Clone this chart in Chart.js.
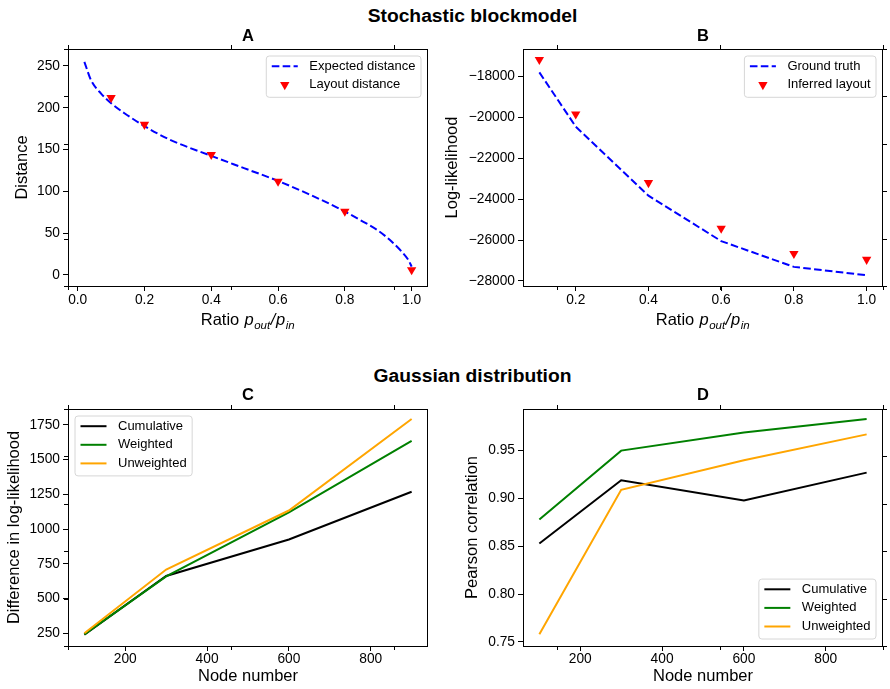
<!DOCTYPE html>
<html>
<head>
<meta charset="utf-8">
<script src="https://cdn.jsdelivr.net/npm/chart.js"></script>
<style>
body { margin: 0; background: #fff; width: 890px; height: 689px; position: relative; overflow: hidden; font-family: "Liberation Sans", Arial, sans-serif; }
canvas { position: absolute; }
.sup { position: absolute; left: 272.5px; width: 400px; text-align: center; font-weight: bold; font-size: 19.25px; line-height: 22px; }
</style>
</head>
<body>
<div class="sup" style="top:5px">Stochastic blockmodel</div>
<div class="sup" style="top:364.5px">Gaussian distribution</div>
<canvas id="chartA" width="438" height="330" style="left:0;top:25px"></canvas>
<canvas id="chartB" width="452" height="330" style="left:438px;top:25px"></canvas>
<canvas id="chartC" width="438" height="306" style="left:0;top:383px"></canvas>
<canvas id="chartD" width="452" height="306" style="left:438px;top:383px"></canvas>
<script>
// panel A - stochastic blockmodel, distances
const ratioCurve = [0.02, 0.04, 0.07, 0.1, 0.14, 0.2, 0.275, 0.4, 0.5, 0.6, 0.69, 0.78, 0.84, 0.9, 0.94, 0.97, 0.99, 1.0];
const expectedDistance = [255, 233, 217, 205.5, 193.5, 178, 162, 142.5, 127.5, 112.5, 97, 80, 67, 53, 40, 28, 18, 10];
const ratioA = [0.1, 0.2, 0.4, 0.6, 0.8, 1.0];
const layoutDistance = [212, 180, 144, 112, 76, 6];

// panel B - log-likelihood
const ratioB = [0.1, 0.2, 0.4, 0.6, 0.8, 1.0];
const groundTruth = [-17800, -20450, -23830, -26050, -27310, -27720];
const inferredLayout = [-17180, -19840, -23200, -25430, -26660, -26950];

// panels C and D - gaussian distribution
const nodeNumber = [100, 300, 600, 900];
const diffCumulative = [240, 663, 925, 1269];
const diffWeighted = [242, 660, 1120, 1635];
const diffUnweighted = [250, 709, 1134, 1793];
const corrCumulative = [0.853, 0.919, 0.898, 0.927];
const corrWeighted = [0.878, 0.950, 0.969, 0.983];
const corrUnweighted = [0.758, 0.909, 0.940, 0.967];

// tick labels
const ratioTicksA = [0, 0.2, 0.4, 0.6, 0.8, 1.0];
const ratioTicksB = [0.2, 0.4, 0.6, 0.8, 1.0];
const distTicks = [0, 50, 100, 150, 200, 250];
const llTicks = [-28000, -26000, -24000, -22000, -20000, -18000];
const nodeTicks = [200, 400, 600, 800];
const diffTicks = [250, 500, 750, 1000, 1250, 1500, 1750];
const corrTicks = [0.75, 0.80, 0.85, 0.90, 0.95];

const FONT = '"Liberation Sans", Arial, sans-serif';
Chart.defaults.font.family = FONT;
Chart.defaults.color = '#000';

const pts = (xs, ys) => xs.map((x, i) => ({ x: x, y: ys[i] }));

// spines all round plus the stray ticks of the big background axes
const frame = {
  id: 'frame',
  afterDraw(chart, args, o) {
    const { ctx, chartArea: a } = chart;
    ctx.save();
    ctx.strokeStyle = '#000';
    ctx.lineWidth = 1;
    ctx.strokeRect(Math.round(a.left) + 0.5, Math.round(a.top) + 0.5, Math.round(a.right - a.left) - 1, Math.round(a.bottom - a.top));
    const b = o.box, ox = o.off[0], oy = o.off[1], L = 4;
    ctx.beginPath();
    for (let i = 0; i <= 5; i++) {
      const f = i / 5;
      const x = Math.round(b[0] + f * (b[1] - b[0]) - ox) + 0.5;
      const y = Math.round(b[3] - f * (b[3] - b[2]) - oy) + 0.5;
      ctx.moveTo(x, b[2] - oy); ctx.lineTo(x, b[2] - oy - L);
      ctx.moveTo(x, b[3] - oy); ctx.lineTo(x, b[3] - oy + L);
      ctx.moveTo(b[0] - ox, y); ctx.lineTo(b[0] - ox - L, y);
      ctx.moveTo(b[1] - ox, y); ctx.lineTo(b[1] - ox + L, y);
    }
    ctx.stroke();
    ctx.restore();
  }
};

const panelTitle = {
  id: 'panelTitle',
  afterDraw(chart, args, o) {
    const { ctx, chartArea: a } = chart;
    ctx.save();
    ctx.font = 'bold 16.5px ' + FONT;
    ctx.fillStyle = '#000';
    ctx.textAlign = 'center';
    ctx.textBaseline = 'middle';
    ctx.fillText(o.text, (a.left + a.right) / 2, a.top - o.dy);
    ctx.restore();
  }
};

// "Ratio p_out/p_in" with italic p and subscripts
const mathTitle = {
  id: 'mathTitle',
  afterDraw(chart, args, o) {
    if (!o.show) return;
    const { ctx, chartArea: a } = chart;
    const parts = [['Ratio ', '', 16.5, 0], ['p', 'italic ', 16.5, 0], ['out', 'italic ', 11.5, 4], ['/', 'italic ', 16.5, 0], ['p', 'italic ', 16.5, 0], ['in', 'italic ', 11.5, 4]];
    ctx.save();
    ctx.fillStyle = '#000';
    ctx.textBaseline = 'alphabetic';
    ctx.textAlign = 'left';
    let total = 0;
    parts.forEach(p => { ctx.font = p[1] + p[2] + 'px ' + FONT; total += ctx.measureText(p[0]).width + 0.6; });
    let x = (a.left + a.right) / 2 - total / 2;
    const y = a.bottom + 39.3;
    parts.forEach(p => {
      ctx.font = p[1] + p[2] + 'px ' + FONT;
      ctx.fillText(p[0], x, y + p[3]);
      x += ctx.measureText(p[0]).width + 0.6;
    });
    ctx.restore();
  }
};

// matplotlib style legend box inside the axes
const mplLegend = {
  id: 'mplLegend',
  afterDraw(chart, args, o) {
    const { ctx, chartArea: a } = chart;
    const sets = chart.data.datasets;
    ctx.save();
    ctx.font = '13px ' + FONT;
    const tw = Math.max(...sets.map(d => ctx.measureText(d.label).width));
    const pad = 5.5, handle = 26, gap = 11.5, rowH = 18.6, inset = 7;
    const w = pad + handle + gap + tw + pad;
    const h = 10.2 + (sets.length - 1) * rowH + 12.5;
    const x0 = o.loc.includes('right') ? a.right - inset - w : a.left + inset;
    const y0 = o.loc.includes('upper') ? a.top + inset : a.bottom - inset - h;
    ctx.beginPath();
    ctx.roundRect(x0, y0, w, h, 3);
    ctx.fillStyle = 'rgba(255,255,255,0.8)';
    ctx.fill();
    ctx.strokeStyle = '#d6d6d6';
    ctx.lineWidth = 1;
    ctx.stroke();
    sets.forEach((d, i) => {
      const cy = y0 + 10.2 + i * rowH;
      const hx = x0 + pad;
      if (d.showLine === false) {
        ctx.fillStyle = d.backgroundColor;
        ctx.strokeStyle = d.borderColor;
        Chart.helpers.drawPoint(ctx, { pointStyle: 'triangle', rotation: 180, radius: d.pointRadius, borderWidth: 0 }, hx + handle / 2, cy);
      } else {
        ctx.beginPath();
        ctx.setLineDash(d.borderDash || []);
        ctx.strokeStyle = d.borderColor;
        ctx.lineWidth = d.borderWidth;
        ctx.moveTo(hx, cy);
        ctx.lineTo(hx + handle, cy);
        ctx.stroke();
        ctx.setLineDash([]);
      }
      ctx.fillStyle = '#000';
      ctx.textBaseline = 'middle';
      ctx.textAlign = 'left';
      ctx.fillText(d.label, hx + handle + gap, cy);
    });
    ctx.restore();
  }
};

function scales(o) {
  const grid = { drawOnChartArea: false, drawTicks: true, tickLength: 5, color: '#000', lineWidth: 1 };
  return {
    x: {
      type: 'linear', min: o.xMin, max: o.xMax,
      afterBuildTicks: s => { s.ticks = o.xTicks.map(v => ({ value: v })); },
      afterFit: s => { s.height = o.xH; },
      ticks: { callback: o.xFmt, font: { size: 13.75 }, padding: o.xPad, maxRotation: 0, autoSkip: false },
      grid: grid,
      border: { display: false },
      title: o.xTitle ? { display: true, text: o.xTitle, font: { size: 16.5 }, padding: { top: 0, bottom: 2.4 } } : { display: false }
    },
    y: {
      type: 'linear', min: o.yMin, max: o.yMax,
      afterBuildTicks: s => { s.ticks = o.yTicks.map(v => ({ value: v })); },
      afterFit: s => { s.width = o.yW; },
      ticks: { callback: o.yFmt, font: { size: 13.75 }, padding: 3, autoSkip: false },
      grid: grid,
      border: { display: false },
      title: { display: true, text: o.yTitle, font: { size: 16.5 }, padding: { top: o.yTitlePad, bottom: 0 } }
    }
  };
}

const base = (padRight, padTop) => ({
  responsive: false,
  animation: false,
  devicePixelRatio: 1,
  events: [],
  layout: { padding: { left: 0, right: padRight, top: padTop, bottom: 0 } }
});

const dashed = (label, xs, ys, smooth) => ({
  label: label, data: pts(xs, ys), order: 1,
  borderColor: '#0000ff', borderWidth: 2, borderDash: [7.6, 3.3],
  pointRadius: 0, fill: false,
  cubicInterpolationMode: smooth ? 'monotone' : 'default', tension: 0
});
const markers = (label, xs, ys) => ({
  label: label, data: pts(xs, ys), order: 0, showLine: false,
  pointStyle: 'triangle', rotation: 180, pointRadius: 5.4,
  backgroundColor: '#ff0000', borderColor: '#ff0000', pointBorderWidth: 0
});
const solid = (label, ys, color, order) => ({
  label: label, data: pts(nodeNumber, ys), order: order,
  borderColor: color, backgroundColor: color, borderWidth: 2,
  pointRadius: 0, fill: false, tension: 0
});

const rowTop = [68, 883, 49, 286];
const rowBottom = [68, 883, 409, 646];

new Chart(document.getElementById('chartA'), {
  type: 'line',
  data: { datasets: [dashed('Expected distance', ratioCurve, expectedDistance, true), markers('Layout distance', ratioA, layoutDistance)] },
  options: Object.assign(base(10, 24), {
    scales: scales({
      xMin: -0.029, xMax: 1.049, xTicks: ratioTicksA, xFmt: v => v.toFixed(1), xH: 69, xPad: 0.5,
      yMin: -13.2, yMax: 270.3, yTicks: distTicks, yFmt: v => String(v), yW: 68,
      yTitle: 'Distance', yTitlePad: 12.6
    }),
    plugins: {
      legend: { display: false }, tooltip: { enabled: false },
      frame: { box: rowTop, off: [0, 25] },
      panelTitle: { text: 'A', dy: 12.3 },
      mathTitle: { show: true },
      mplLegend: { loc: 'upper right' }
    }
  }),
  plugins: [frame, panelTitle, mathTitle, mplLegend]
});

new Chart(document.getElementById('chartB'), {
  type: 'line',
  data: { datasets: [dashed('Ground truth', ratioB, groundTruth, false), markers('Inferred layout', ratioB, inferredLayout)] },
  options: Object.assign(base(7, 24), {
    scales: scales({
      xMin: 0.055, xMax: 1.045, xTicks: ratioTicksB, xFmt: v => v.toFixed(1), xH: 69, xPad: 0.5,
      yMin: -28245, yMax: -16657, yTicks: llTicks, yFmt: v => '\u2212' + Math.abs(v), yW: 85,
      yTitle: 'Log-likelihood', yTitlePad: 4.6
    }),
    plugins: {
      legend: { display: false }, tooltip: { enabled: false },
      frame: { box: rowTop, off: [438, 25] },
      panelTitle: { text: 'B', dy: 12.3 },
      mathTitle: { show: true },
      mplLegend: { loc: 'upper right' }
    }
  }),
  plugins: [frame, panelTitle, mathTitle, mplLegend]
});

new Chart(document.getElementById('chartC'), {
  type: 'line',
  data: { datasets: [solid('Cumulative', diffCumulative, '#000000', 3), solid('Weighted', diffWeighted, '#008000', 2), solid('Unweighted', diffUnweighted, '#ffa500', 1)] },
  options: Object.assign(base(10, 26), {
    scales: scales({
      xMin: 60, xMax: 940, xTicks: nodeTicks, xFmt: v => String(v), xH: 43, xPad: 0, xTitle: 'Node number',
      yMin: 158.5, yMax: 1865, yTicks: diffTicks, yFmt: v => String(v), yW: 68,
      yTitle: 'Difference in log-likelihood', yTitlePad: 4.6
    }),
    plugins: {
      legend: { display: false }, tooltip: { enabled: false },
      frame: { box: rowBottom, off: [0, 383] },
      panelTitle: { text: 'C', dy: 13.7 },
      mathTitle: { show: false },
      mplLegend: { loc: 'upper left' }
    }
  }),
  plugins: [frame, panelTitle, mathTitle, mplLegend]
});

new Chart(document.getElementById('chartD'), {
  type: 'line',
  data: { datasets: [solid('Cumulative', corrCumulative, '#000000', 3), solid('Weighted', corrWeighted, '#008000', 2), solid('Unweighted', corrUnweighted, '#ffa500', 1)] },
  options: Object.assign(base(7, 26), {
    scales: scales({
      xMin: 60, xMax: 940, xTicks: nodeTicks, xFmt: v => String(v), xH: 43, xPad: 0, xTitle: 'Node number',
      yMin: 0.7458, yMax: 0.9935, yTicks: corrTicks, yFmt: v => v.toFixed(2), yW: 85,
      yTitle: 'Pearson correlation', yTitlePad: 24.7
    }),
    plugins: {
      legend: { display: false }, tooltip: { enabled: false },
      frame: { box: rowBottom, off: [438, 383] },
      panelTitle: { text: 'D', dy: 13.7 },
      mathTitle: { show: false },
      mplLegend: { loc: 'lower right' }
    }
  }),
  plugins: [frame, panelTitle, mathTitle, mplLegend]
});
</script>
</body>
</html>
